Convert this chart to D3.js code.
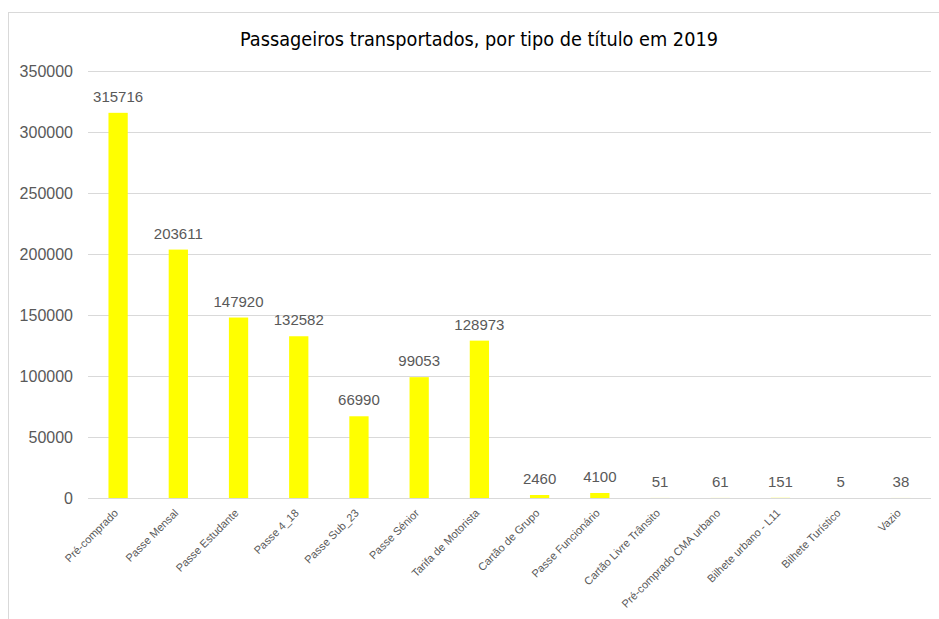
<!DOCTYPE html>
<html>
<head>
<meta charset="utf-8">
<script src="https://cdn.jsdelivr.net/npm/d3@7"></script>
<style>
  body { margin: 0; background: #fff; }
  svg { display: block; }
</style>
</head>
<body>
<div id="chart"></div>
<script>
var categories = ["Pré-comprado", "Passe Mensal", "Passe Estudante", "Passe 4_18", "Passe Sub_23",
    "Passe Sénior", "Tarifa de Motorista", "Cartão de Grupo", "Passe Funcionário",
    "Cartão Livre Trânsito", "Pré-comprado CMA urbano", "Bilhete urbano - L11",
    "Bilhete Turístico", "Vazio"];
var values = [315716, 203611, 147920, 132582, 66990, 99053, 128973, 2460, 4100, 51, 61, 151, 5, 38];
var yTicks = [0, 50000, 100000, 150000, 200000, 250000, 300000, 350000];
var title = "Passageiros transportados, por tipo de título em 2019";

var W = 939, H = 619;
var margin = {top: 71, right: 8, bottom: 121, left: 88};
var width = W - margin.left - margin.right,
    height = H - margin.top - margin.bottom;

var svg = d3.select("#chart").append("svg")
    .attr("width", W)
    .attr("height", H);

// chart frame
svg.append("rect")
    .attr("x", 8.5).attr("y", 12.5)
    .attr("width", 960).attr("height", 640)
    .style("fill", "none")
    .style("stroke", "#d9d9d9");

svg.append("text")
    .attr("x", 479).attr("y", 46)
    .attr("textLength", 478)
    .attr("lengthAdjust", "spacingAndGlyphs")
    .style("text-anchor", "middle")
    .style("font-family", "'DejaVu Sans Condensed', 'DejaVu Sans'")
    .style("font-size", "19px")
    .style("fill", "#000")
    .text(title);

var g = svg.append("g")
    .attr("transform", "translate(" + margin.left + "," + margin.top + ")");

var x = d3.scaleBand()
    .domain(categories)
    .range([0, width])
    .paddingInner(0.68)
    .paddingOuter(0.34);

var y = d3.scaleLinear()
    .domain([0, 350000])
    .range([height, 0]);

// gridlines
g.selectAll(".grid")
    .data(yTicks)
    .enter().append("line")
    .attr("class", "grid")
    .attr("x1", 0).attr("x2", width)
    .attr("y1", function(d) { return Math.round(y(d)) + 0.5; })
    .attr("y2", function(d) { return Math.round(y(d)) + 0.5; })
    .style("stroke", "#d9d9d9")
    .style("stroke-width", 1);

var yAxis = d3.axisLeft(y).tickValues(yTicks).tickSize(0).tickPadding(15)
    .tickFormat(d3.format("d"));
var yg = g.append("g").call(yAxis);
yg.select(".domain").remove();
yg.selectAll("text")
    .style("font-family", "'Liberation Sans', Arial")
    .style("font-size", "16px")
    .style("fill", "#595959");

g.selectAll(".bar")
    .data(values)
    .enter().append("rect")
    .attr("class", "bar")
    .attr("x", function(d, i) { return x(categories[i]); })
    .attr("width", x.bandwidth())
    .attr("y", function(d) { return y(d); })
    .attr("height", function(d) { return height - y(d); })
    .style("fill", "#ffff00");

g.selectAll(".val")
    .data(values)
    .enter().append("text")
    .attr("class", "val")
    .attr("x", function(d, i) { return x(categories[i]) + x.bandwidth() / 2; })
    .attr("y", function(d) { return y(d) - 11; })
    .style("text-anchor", "middle")
    .style("font-family", "'Liberation Sans', Arial")
    .style("font-size", "15px")
    .style("fill", "#595959")
    .text(function(d) { return d; });

var xg = g.append("g")
    .attr("transform", "translate(0," + height + ")")
    .call(d3.axisBottom(x).tickSize(0).tickPadding(0));
xg.select(".domain").remove();
xg.selectAll("text")
    .attr("transform", "translate(-2,13) rotate(-45)")
    .attr("dy", "0.35em")
    .style("text-anchor", "end")
    .style("font-family", "'Liberation Sans', Arial")
    .style("font-size", "11px")
    .style("fill", "#595959");
</script>
</body>
</html>
